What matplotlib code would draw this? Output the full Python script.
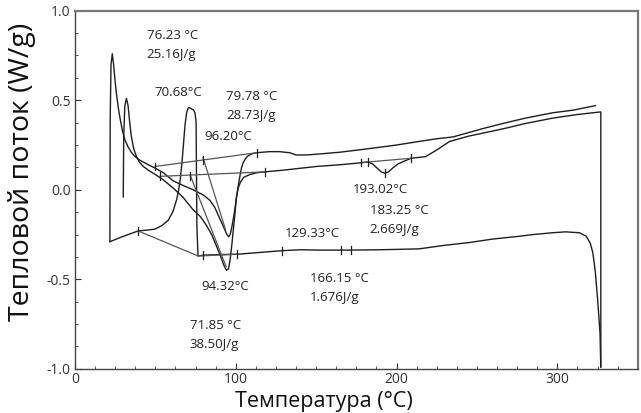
import numpy as np
import matplotlib
matplotlib.use("Agg")
import matplotlib.pyplot as plt
from matplotlib.ticker import MultipleLocator

plt.rcParams['font.family'] = ['Open Sans', 'DejaVu Sans']

# heating run 1 (startup at 30 C, endotherm at 94.32 C, small dip at 193 C)
h1_T = [30.0, 30.3, 31.0, 32.0, 33.0, 34.0, 35.0, 36.5, 38.0, 40.0, 42.5, 45.5,
        50.0, 55.0, 61.0, 67.0, 73.3, 78.0, 81.8, 85.0, 88.0, 90.5, 92.5, 94.2,
        95.5, 96.5, 97.5, 98.5, 99.5, 100.4, 101.5, 103.0, 105.0, 108.7, 113.0,
        118.0, 130.0, 150.0, 165.0, 177.0, 182.0, 185.0, 188.0, 190.5, 192.5,
        195.0, 198.0, 201.0, 204.0, 209.0, 218.0, 224.6, 233.0, 245.0, 266.0,
        280.0, 297.0, 312.0, 327.0, 327.0]
h1_W = [-0.04, 0.30, 0.47, 0.51, 0.47, 0.38, 0.30, 0.23, 0.19, 0.155, 0.13, 0.11,
        0.085, 0.055, 0.01, -0.04, -0.11, -0.15, -0.20, -0.25, -0.315, -0.37, -0.42, -0.45,
        -0.44, -0.39, -0.31, -0.22, -0.13, -0.04, 0.01, 0.045, 0.07, 0.085, 0.095,
        0.10, 0.11, 0.13, 0.14, 0.15, 0.155, 0.145, 0.12, 0.10, 0.093,
        0.10, 0.125, 0.145, 0.157, 0.176, 0.185, 0.22, 0.27, 0.30, 0.34,
        0.37, 0.40, 0.42, 0.435, -0.99]

# cooling run (from 327 C down to room temperature, crystallisation near 71 C)
cool_T = [327.0, 326.5, 325.0, 323.5, 322.0, 320.5, 318.0, 313.7, 305.0, 297.0,
          285.0, 276.0, 260.0, 245.0, 230.0, 214.0, 190.0, 170.0, 152.0, 140.0,
          129.0, 115.0, 101.0, 90.0, 80.0, 76.5, 75.8, 75.3, 74.6, 73.8, 72.8,
          71.8, 71.0, 70.3, 69.4, 68.4, 67.6, 66.6, 65.5, 64.3, 63.2, 61.0, 58.0,
          54.0, 49.7, 45.0, 39.3, 30.0, 21.7]
cool_W = [-0.99, -0.80, -0.61, -0.45, -0.35, -0.30, -0.26, -0.24, -0.235, -0.24,
          -0.25, -0.26, -0.275, -0.295, -0.31, -0.33, -0.335, -0.337, -0.337, -0.335,
          -0.34, -0.35, -0.36, -0.362, -0.365, -0.37, -0.20, 0.38, 0.43, 0.445, 0.45,
          0.455, 0.46, 0.455, 0.43, 0.36, 0.27, 0.16, 0.06, -0.01, -0.055, -0.12, -0.17,
          -0.20, -0.22, -0.225, -0.23, -0.26, -0.29]

# heating run 2 (startup at 22 C, endotherm at 96.20 C)
h2_T = [21.7, 21.9, 22.4, 23.2, 24.0, 25.0, 26.0, 26.9, 28.0, 29.5, 31.0, 33.0,
        35.0, 37.3, 40.4, 45.5, 50.0, 55.0, 61.0, 67.0, 73.5, 80.0, 84.0, 87.0,
        89.0, 91.0, 93.0, 94.5, 95.6, 96.5, 97.5, 98.5, 99.4, 100.5, 101.5, 102.5,
        103.5, 104.5, 105.6, 107.0, 108.7, 110.5, 113.0, 121.0, 127.0, 133.5, 137.7,
        145.0, 152.0, 165.0, 183.0, 200.0, 214.0, 225.0, 235.0, 245.0, 255.0, 266.0,
        280.0, 297.0, 310.0, 323.6]
h2_W = [-0.29, 0.40, 0.70, 0.76, 0.70, 0.60, 0.52, 0.46, 0.40, 0.33, 0.28, 0.24,
        0.21, 0.185, 0.165, 0.14, 0.12, 0.095, 0.05, 0.025, 0.0, -0.03, -0.06, -0.10,
        -0.14, -0.18, -0.22, -0.25, -0.262, -0.25, -0.21, -0.16, -0.11, -0.04, 0.02, 0.074,
        0.12, 0.15, 0.167, 0.185, 0.195, 0.202, 0.207, 0.213, 0.213, 0.207, 0.194,
        0.195, 0.200, 0.21, 0.23, 0.25, 0.27, 0.285, 0.295, 0.32, 0.345, 0.37,
        0.40, 0.43, 0.445, 0.47]

# integration baselines and onset tangents
base_h2_T = [49.7, 113.0]
base_h2_W = [0.13, 0.207]
tan_h2_T = [79.6, 93.5]
tan_h2_W = [0.18, -0.22]
base_h1_T = [52.8, 118.0]
base_h1_W = [0.075, 0.10]
tan_h1_T = [71.8, 94.0]
tan_h1_W = [0.078, -0.43]
base_cr_T = [39.3, 76.6, 101.0]
base_cr_W = [-0.23, -0.37, -0.36]
base_dip_T = [178.0, 209.0]
base_dip_W = [0.152, 0.176]

# limit markers: (temperature, heat flow)
marks_T = [49.7, 79.6, 113.0, 52.8, 71.8, 118.0, 39.3, 79.5, 101.0,
           178.0, 182.0, 209.0, 192.5, 129.0, 165.6, 171.8]
marks_W = [0.13, 0.165, 0.207, 0.075, 0.078, 0.10, -0.23, -0.365, -0.36,
           0.152, 0.155, 0.176, 0.093, -0.34, -0.337, -0.337]

labels = [
    ("76.23 °C\n25.16J/g", 44.5, 0.81),
    ("70.68°C", 49.5, 0.545),
    ("79.78 °C\n28.73J/g", 94.0, 0.47),
    ("96.20°C", 80.7, 0.30),
    ("193.02°C", 172.8, 0.0),
    ("183.25 °C\n2.669J/g", 183.2, -0.17),
    ("129.33°C", 130.4, -0.245),
    ("166.15 °C\n1.676J/g", 146.0, -0.55),
    ("94.32°C", 78.7, -0.54),
    ("71.85 °C\n38.50J/g", 71.4, -0.81),
]

fig = plt.figure(figsize=(6.41, 4.13), dpi=100)
ax = fig.add_axes([0.117, 0.107, 0.878, 0.867])

line_c = '#1e1e1e'
base_c = '#555555'
ax.plot(h1_T, h1_W, color=line_c, lw=1.0)
ax.plot(cool_T, cool_W, color=line_c, lw=1.0)
ax.plot(h2_T, h2_W, color=line_c, lw=1.0)

for bt, bw in [(base_h2_T, base_h2_W), (tan_h2_T, tan_h2_W), (base_h1_T, base_h1_W),
               (tan_h1_T, tan_h1_W), (base_cr_T, base_cr_W), (base_dip_T, base_dip_W)]:
    ax.plot(bt, bw, color=base_c, lw=0.9)

for t, w in zip(marks_T, marks_W):
    ax.plot([t, t], [w - 0.022, w + 0.022], color=line_c, lw=0.9)

for txt, t, w in labels:
    ax.text(t, w, txt, fontsize=9.5, color='#222222', ha='left', va='center',
            linespacing=1.6)

ax.set_xlim(0, 350)
ax.set_ylim(-1.0, 1.0)
ax.set_xticks([0, 100, 200, 300])
ax.set_yticks([-1.0, -0.5, 0.0, 0.5, 1.0])
ax.set_yticklabels(['-1.0', '-0.5', '0.0', '0.5', '1.0'])
ax.xaxis.set_minor_locator(MultipleLocator(12.5))
ax.yaxis.set_minor_locator(MultipleLocator(0.125))
ax.tick_params(which='both', direction='in', labelsize=10, colors='#333333')
ax.tick_params(axis='x', pad=2)
ax.tick_params(axis='y', pad=3)
ax.tick_params(which='major', length=4)
ax.tick_params(which='minor', length=2.5)
ax.tick_params(axis='x', which='both', top=False)
ax.tick_params(axis='y', which='both', right=False)

for side in ['left', 'bottom']:
    ax.spines[side].set_color('#444444')
    ax.spines[side].set_linewidth(1.0)
for side in ['top', 'right']:
    ax.spines[side].set_color('#777777')
    ax.spines[side].set_linewidth(1.6)

fig.text(22 / 641, 1 - 172 / 413, 'Тепловой поток (W/g)', rotation=90,
         ha='center', va='center', fontsize=20.5, color='#111111')
fig.text(324 / 641, 1 - 401 / 413, 'Температура (°C)', ha='center', va='center',
         fontsize=15.5, color='#111111')

fig.savefig('out.png', dpi=100)
